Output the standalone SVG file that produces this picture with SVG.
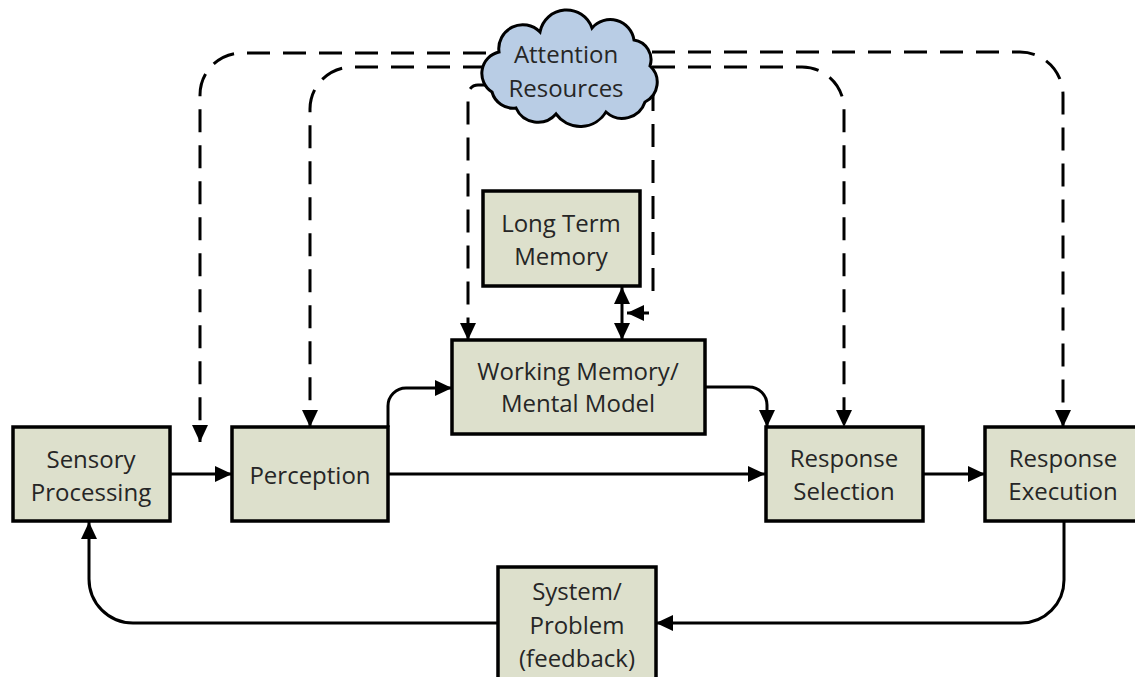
<svg xmlns="http://www.w3.org/2000/svg" width="1135" height="677" viewBox="0 0 1135 677">
<defs>
<marker id="ah" viewBox="0 0 10 10" refX="10" refY="5" markerWidth="17" markerHeight="16" markerUnits="userSpaceOnUse" orient="auto-start-reverse" preserveAspectRatio="none">
<path d="M0,0 L10,5 L0,10 Z" fill="#000"/>
</marker>
<style>
.box{fill:#dde0cc;stroke:#000;stroke-width:3.5}
.t{font-family:"Open Sans","Liberation Sans",sans-serif;font-size:24px;fill:#262626;text-anchor:middle;dominant-baseline:central}
.solid{fill:none;stroke:#000;stroke-width:3}
.dash{fill:none;stroke:#000;stroke-width:3;stroke-dasharray:23 13}
</style>
</defs>
<rect width="1135" height="677" fill="#fff"/>
<g id="connectors">
<path class="dash" d="M486,53 H242 A42,42 0 0 0 200,95 V442" marker-end="url(#ah)"/>
<path class="dash" d="M486,67 H352 A42,42 0 0 0 310,109 V427" marker-end="url(#ah)"/>
<path class="dash" d="M492,85 H478 A10,10 0 0 0 468,95 V340" marker-end="url(#ah)"/>
<path class="dash" d="M652,52 H1020 A43,43 0 0 1 1063,95 V427" marker-end="url(#ah)"/>
<path class="dash" d="M652,67 H802 A42,42 0 0 1 844,109 V427" marker-end="url(#ah)"/>
<path class="dash" d="M653,88 V303"/>
<path class="solid" d="M649,313 H627" marker-end="url(#ah)"/>
<path class="solid" d="M622,287 V340" marker-start="url(#ah)" marker-end="url(#ah)"/>
<path class="solid" d="M170,474 H232" marker-end="url(#ah)"/>
<path class="solid" d="M388,474 H765" marker-end="url(#ah)"/>
<path class="solid" d="M388,427 V406 A18,18 0 0 1 406,388 H452" marker-end="url(#ah)"/>
<path class="solid" d="M705,387 H749 A18,18 0 0 1 767,405 V427" marker-end="url(#ah)"/>
<path class="solid" d="M923,474 H985" marker-end="url(#ah)"/>
<path class="solid" d="M1064,522 V580 A43,43 0 0 1 1021,623 H656" marker-end="url(#ah)"/>
<path class="solid" d="M498,623 H133 A44,44 0 0 1 89,579 V522" marker-end="url(#ah)"/>
</g>
<g id="cloud">
<path d="M492,92 A22,22 0 0 1 499,52 A24,24 0 0 1 540,32 A27,27 0 0 1 592,28 A24,24 0 0 1 634,40 A20,20 0 0 1 650,66 A22,22 0 0 1 645,102 A24,24 0 0 1 606,112 A30,30 0 0 1 556,114 A24,24 0 0 1 516,108 A22,22 0 0 1 492,92 Z" fill="#b9cde5" stroke="#000" stroke-width="3"/>
<text class="t" x="566" y="53">Attention</text>
<text class="t" x="566" y="87">Resources</text>
</g>
<g id="ltm">
<rect class="box" x="483" y="191" width="157" height="95"/>
<text class="t" x="561" y="222">Long Term</text>
<text class="t" x="561" y="255">Memory</text>
</g>
<g id="wm">
<rect class="box" x="452" y="340" width="253" height="94"/>
<text class="t" x="578" y="370">Working Memory/</text>
<text class="t" x="578" y="402">Mental Model</text>
</g>
<g id="sensory">
<rect class="box" x="13" y="427" width="157" height="94"/>
<text class="t" x="91" y="458">Sensory</text>
<text class="t" x="91" y="491">Processing</text>
</g>
<g id="perception">
<rect class="box" x="232" y="427" width="156" height="94"/>
<text class="t" x="310" y="474">Perception</text>
</g>
<g id="selection">
<rect class="box" x="766" y="427" width="157" height="94"/>
<text class="t" x="844" y="457">Response</text>
<text class="t" x="844" y="490">Selection</text>
</g>
<g id="execution">
<rect class="box" x="985" y="427" width="157" height="94"/>
<text class="t" x="1063" y="457">Response</text>
<text class="t" x="1063" y="490">Execution</text>
</g>
<g id="system">
<rect class="box" x="498" y="567" width="158" height="120"/>
<text class="t" x="577" y="590">System/</text>
<text class="t" x="577" y="624">Problem</text>
<text class="t" x="577" y="657">(feedback)</text>
</g>
</svg>
